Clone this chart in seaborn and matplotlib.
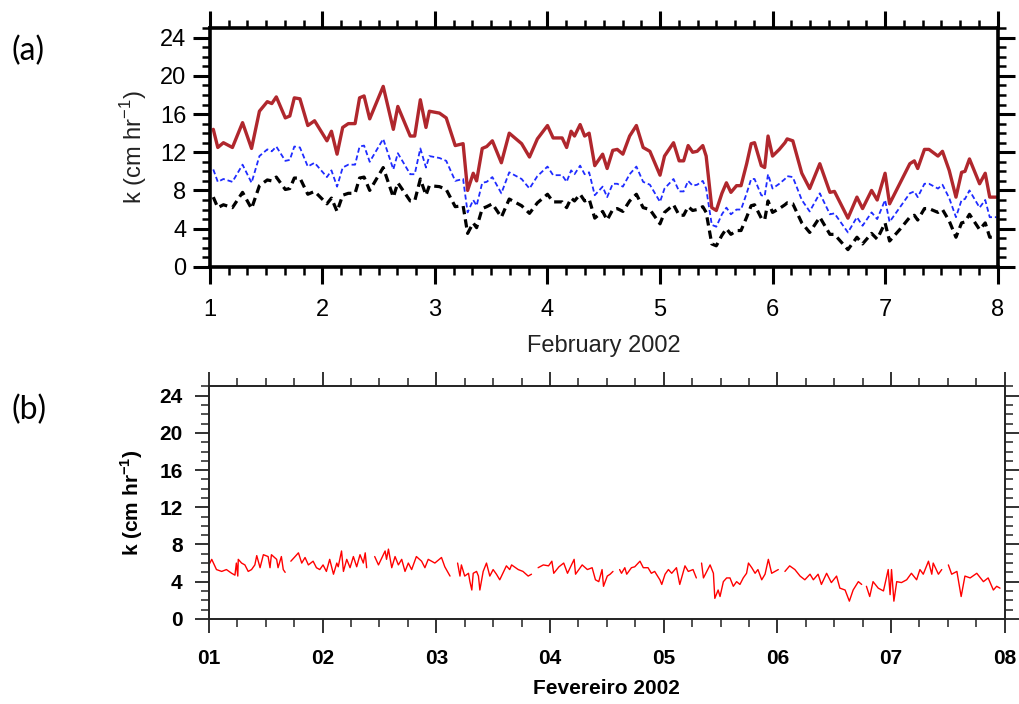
import numpy as np
import pandas as pd
import matplotlib
matplotlib.use("Agg")
import matplotlib.pyplot as plt
import seaborn as sns
from matplotlib.ticker import MultipleLocator, FixedLocator, FixedFormatter

# ---------------- data: panel (a) ----------------
day_a = [1.03, 1.07, 1.12, 1.20, 1.29, 1.37, 1.44, 1.51, 1.55, 1.59,
         1.67, 1.71, 1.75, 1.80, 1.87, 1.93, 2.04, 2.08, 2.13, 2.18,
         2.23, 2.29, 2.33, 2.37, 2.42, 2.54, 2.63, 2.67, 2.78, 2.82,
         2.87, 2.92, 2.95, 3.04, 3.10, 3.18, 3.25, 3.29, 3.34, 3.37,
         3.42, 3.46, 3.51, 3.59, 3.66, 3.77, 3.84, 3.91, 4.00, 4.05,
         4.13, 4.17, 4.21, 4.24, 4.29, 4.33, 4.37, 4.42, 4.49, 4.53,
         4.58, 4.62, 4.67, 4.73, 4.79, 4.85, 4.91, 5.00, 5.04, 5.12,
         5.17, 5.21, 5.25, 5.29, 5.33, 5.38, 5.41, 5.46, 5.50, 5.55,
         5.59, 5.63, 5.68, 5.72, 5.77, 5.81, 5.84, 5.90, 5.93, 5.96,
         6.00, 6.06, 6.11, 6.13, 6.18, 6.26, 6.33, 6.42, 6.51, 6.55,
         6.67, 6.75, 6.80, 6.88, 6.93, 7.00, 7.04, 7.13, 7.22, 7.26,
         7.29, 7.35, 7.39, 7.47, 7.51, 7.57, 7.63, 7.68, 7.71, 7.75,
         7.84, 7.89, 7.93, 7.99]

k_red_a = [14.4, 12.5, 13.0, 12.5, 15.1, 12.4, 16.3, 17.3, 17.1, 17.8,
           15.6, 15.8, 17.7, 17.6, 14.8, 15.3, 13.2, 14.2, 11.8, 14.6,
           15.0, 15.0, 17.7, 17.9, 15.5, 18.9, 14.4, 16.8, 13.7, 13.7,
           17.5, 14.6, 16.3, 16.1, 15.6, 12.7, 12.9, 8.0, 9.8, 9.0,
           12.4, 12.6, 13.2, 10.9, 14.0, 12.9, 11.5, 13.4, 14.8, 13.5,
           13.5, 12.5, 14.2, 13.7, 14.9, 13.7, 14.0, 10.6, 11.8, 10.3,
           12.2, 12.3, 11.8, 13.7, 14.8, 12.5, 12.1, 9.6, 11.6, 13.0,
           11.1, 11.1, 12.7, 12.0, 12.1, 12.7, 11.6, 6.2, 5.9, 7.7,
           8.8, 7.8, 8.5, 8.5, 10.8, 12.9, 13.0, 10.6, 10.4, 13.7,
           11.6, 12.3, 13.0, 13.4, 13.2, 9.8, 8.2, 10.8, 7.8, 7.9,
           5.1, 7.3, 6.1, 8.0, 7.0, 9.8, 6.6, 8.7, 10.8, 11.1,
           10.3, 12.3, 12.3, 11.6, 12.1, 10.1, 7.3, 9.9, 10.0, 11.3,
           8.7, 9.8, 7.3, 7.3]

k_blue_a = [10.2, 8.9, 9.2, 8.9, 10.7, 8.8, 11.6, 12.3, 12.1, 12.6,
            11.1, 11.2, 12.6, 12.5, 10.5, 10.9, 9.4, 10.1, 8.4, 10.4,
            10.7, 10.7, 12.6, 12.7, 11.0, 13.4, 10.2, 11.9, 9.7, 9.7,
            12.4, 10.4, 11.6, 11.4, 11.1, 9.0, 9.2, 5.7, 7.0, 6.4,
            8.8, 8.9, 9.4, 7.7, 9.9, 9.2, 8.2, 9.5, 10.5, 9.6,
            9.6, 8.9, 10.1, 9.7, 10.6, 9.7, 9.9, 7.5, 8.4, 7.3,
            8.7, 8.7, 8.4, 9.7, 10.5, 8.9, 8.6, 6.8, 8.2, 9.2,
            7.9, 7.9, 9.0, 8.5, 8.6, 9.0, 8.2, 4.4, 4.2, 5.5,
            6.2, 5.5, 6.0, 6.0, 7.7, 9.2, 9.2, 7.5, 7.4, 9.7,
            8.2, 8.7, 9.2, 9.5, 9.4, 7.0, 5.8, 7.7, 5.5, 5.6,
            3.6, 5.2, 4.3, 5.7, 5.0, 7.0, 4.7, 6.2, 7.7, 7.9,
            7.3, 8.7, 8.7, 8.2, 8.6, 7.2, 5.2, 7.0, 7.1, 8.0,
            6.2, 7.0, 5.2, 5.2]

k_black_a = [7.3, 6.2, 6.5, 6.2, 7.8, 6.1, 8.5, 9.1, 9.0, 9.4,
             8.1, 8.2, 9.3, 9.3, 7.6, 7.9, 6.6, 7.2, 5.8, 7.5,
             7.7, 7.7, 9.3, 9.4, 8.0, 10.4, 7.3, 8.8, 6.9, 6.9,
             9.2, 7.5, 8.5, 8.4, 8.1, 6.3, 6.4, 3.5, 4.6, 4.1,
             6.1, 6.3, 6.6, 5.2, 7.1, 6.4, 5.6, 6.7, 7.6, 6.8,
             6.8, 6.2, 7.2, 6.9, 7.6, 6.9, 7.1, 5.1, 5.8, 4.9,
             6.0, 6.1, 5.8, 6.9, 7.6, 6.2, 6.0, 4.5, 5.7, 6.5,
             5.4, 5.4, 6.3, 5.9, 6.0, 6.3, 5.7, 2.4, 2.2, 3.3,
             4.0, 3.4, 3.8, 3.8, 5.2, 6.4, 6.5, 5.1, 4.9, 6.9,
             5.7, 6.1, 6.5, 6.7, 6.6, 4.6, 3.6, 5.2, 3.4, 3.4,
             1.8, 3.1, 2.4, 3.5, 2.9, 4.6, 2.7, 3.9, 5.2, 5.4,
             4.9, 6.1, 6.1, 5.7, 6.0, 4.8, 3.1, 4.6, 4.7, 5.5,
             3.9, 4.6, 3.1, 3.1]

# ---------------- data: panel (b) (hours since 1 Feb 00:00; nan = gap) ----------------
nan = float("nan")
hours_b = [0.0, 0.6, 1.6, 2.7, 3.7, 4.8, 5.5, 5.8, 6.1, 6.2, 6.9, 7.6, 8.3, 9.0, 9.7, 10.1, 10.8, 11.5, 12.5, 12.9, 13.2, 14.3, 14.6, 15.3, 15.7, 16.1, 16.5,
           17.3, 18.2, 18.9, 19.6, 20.3, 21.0, 22.0, 22.7, 23.4, 24.1, 24.8, 25.5, 26.3, 27.0, 27.3, 28.0, 28.4, 29.1, 29.8, 30.5, 31.2, 31.9, 32.6, 33.0, 33.3, 34.0,
           35.0, 35.8, 37.2, 37.5, 37.9, 38.6, 39.3, 40.0, 40.7, 41.4, 42.1, 42.8, 43.8, 44.9, 45.6, 46.3, 47.7, 49.1, 49.8, 50.9, 51.5,
           52.5, 53.0, 53.3, 54.0, 54.8, 55.1, 55.5, 55.8, 56.5, 56.9, 57.2, 57.9, 58.6, 59.3, 60.0, 60.7, 61.4, 62.8, 63.5, 63.9, 65.3, 66.3, 67.4, 68.1, 68.8,
           69.5, 70.6, 71.7, 72.4, 72.8, 73.9, 74.9, 75.7, 77.1, 77.4, 78.8, 79.9, 80.9, 81.6, 82.3, 83.0, 83.3, 84.1, 84.7, 85.3, 85.8,
           86.7, 87.1, 87.8, 88.2, 89.2, 89.9, 91.0, 91.7, 92.7, 93.4, 94.1, 95.2, 95.6, 96.3, 97.0, 97.7, 98.7, 99.4, 100.5, 101.2, 102.2, 102.9, 103.6,
           104.0, 104.4, 105.1, 105.8, 106.5, 106.8, 107.5, 107.9, 108.6, 109.3, 110.0, 110.7, 111.4, 112.1, 112.8, 113.5, 113.9, 114.6, 115.3, 115.9, 116.7, 117.4, 118.1, 118.8, 119.5, 120.2, 120.8,
           121.6, 122.6, 123.7, 124.8, 125.8, 126.9, 127.6, 128.6, 129.3, 130.4, 131.4, 132.5, 133.2, 134.3, 135.2, 136.0, 137.1, 137.8, 138.2,
           138.8, 139.5, 140.2, 141.3, 142.4, 143.4, 143.8, 144.1, 144.6, 145.2, 146.2, 147.3, 148.3, 149.4, 150.1, 150.8, 151.9, 152.6, 152.9, 154.0, 154.7, 155.0,
           156.1, 156.8, 157.9, 158.8, 159.6, 160.7, 162.1, 163.5, 164.5, 165.6, 166.3, 167.0]
k_b = [5.8, 6.4, 5.3, 5.1, 5.3, 4.9, 4.7, 6.0, 4.6, 6.4, 6.0, 5.8, 5.1, 5.3, 5.8, 6.8, 5.5, 6.9, 6.7, 5.5, 6.9, 6.4, 5.5, 6.7, 5.3, 5.0, nan,
       6.2, 6.7, 7.1, 6.0, 6.6, 5.8, 6.2, 5.5, 5.3, 5.8, 5.1, 6.4, 4.8, 6.0, 5.6, 7.3, 5.1, 6.4, 5.5, 6.7, 5.6, 6.9, 6.0, 7.1, 5.5, nan,
       6.7, 5.8, 7.3, 6.4, 7.5, 5.5, 6.7, 5.8, 6.4, 5.1, 6.0, 5.3, 6.7, 6.2, 5.5, 6.4, 6.0, 6.6, 5.6, 4.6, nan,
       6.0, 4.6, 5.8, 4.6, 4.9, 4.0, 3.1, 4.9, 5.1, 4.6, 3.1, 5.1, 6.0, 4.6, 5.3, 4.8, 4.2, 5.7, 5.3, 5.8, 5.3, 5.1, 4.6, 4.8, nan,
       5.5, 5.8, 5.7, 6.2, 4.9, 5.6, 6.0, 4.9, 6.4, 4.8, 5.8, 5.3, 5.5, 4.2, 4.0, 5.3, 3.5, 4.6, 4.8, 5.1, nan,
       5.3, 4.9, 5.5, 4.8, 5.5, 5.6, 6.2, 5.5, 5.5, 4.9, 5.1, 4.2, 3.7, 4.8, 5.3, 4.9, 5.5, 3.7, 5.7, 5.1, 5.3, 4.4, nan,
       6.0, 4.4, 5.1, 5.8, 4.9, 2.2, 3.1, 2.4, 4.0, 4.4, 4.4, 3.5, 4.0, 3.7, 4.4, 4.9, 6.0, 5.5, 4.9, 5.3, 4.2, 4.8, 6.4, 4.9, 5.1, 5.3, nan,
       5.1, 5.7, 5.3, 4.6, 4.2, 4.8, 4.2, 4.8, 3.7, 4.9, 3.9, 4.6, 3.3, 3.1, 1.9, 3.1, 4.0, 3.7, nan,
       3.5, 2.4, 4.0, 3.3, 3.0, 5.3, 2.6, 5.3, 1.9, 4.0, 3.9, 4.2, 4.9, 4.2, 5.3, 4.8, 6.2, 4.8, 6.0, 4.8, 5.3, nan,
       5.8, 4.8, 5.1, 2.4, 4.6, 4.4, 4.9, 4.0, 4.4, 3.1, 3.5, 3.3]

ticks_days = [1, 2, 3, 4, 5, 6, 7, 8]
labels_a = ["1", "2", "3", "4", "5", "6", "7", "8"]
labels_b = ["01", "02", "03", "04", "05", "06", "07", "08"]
yticks = [0, 4, 8, 12, 16, 20, 24]

# ---------------- style ----------------
sns.set_theme(style="white")
plt.rcParams["font.family"] = ["Liberation Sans", "DejaVu Sans"]
plt.rcParams["mathtext.fontset"] = "custom"
plt.rcParams["mathtext.rm"] = "Liberation Sans"
plt.rcParams["mathtext.bf"] = "Liberation Sans:bold"
plt.rcParams["text.color"] = "black"
plt.rcParams["axes.labelcolor"] = "black"

fig = plt.figure(figsize=(10.19, 7.04), dpi=100)
ax1 = fig.add_axes([0.206, 0.621, 0.773, 0.339])
ax2 = fig.add_axes([0.205, 0.121, 0.781, 0.330])

# ---------------- panel (a) ----------------
df_a = pd.DataFrame({"day": day_a, "red": k_red_a, "blue": k_blue_a, "black": k_black_a})
sns.lineplot(data=df_a, x="day", y="black", ax=ax1, color="black", lw=2.3,
             linestyle=(0, (2.6, 1.6)), estimator=None, sort=False)
sns.lineplot(data=df_a, x="day", y="blue", ax=ax1, color="#1f2cff", lw=1.3,
             linestyle=(0, (2.8, 1.6)), estimator=None, sort=False)
sns.lineplot(data=df_a, x="day", y="red", ax=ax1, color="#b0272d", lw=2.4,
             estimator=None, sort=False)

ax1.set_xlim(1, 8)
ax1.set_ylim(0, 25)
ax1.xaxis.set_major_locator(FixedLocator(ticks_days))
ax1.xaxis.set_major_formatter(FixedFormatter(labels_a))
ax1.xaxis.set_minor_locator(MultipleLocator(1 / 6))
ax1.set_yticks(yticks)
ax1.yaxis.set_minor_locator(MultipleLocator(1))
ax1.tick_params(which="both", direction="out", top=True, right=True,
                bottom=True, left=True, labelsize=17, colors="black")
ax1.tick_params(which="major", length=12, width=2.2, pad=5)
ax1.tick_params(which="minor", length=6, width=1.8)
ax1.tick_params(axis="x", which="major", pad=11)
for s in ax1.spines.values():
    s.set_linewidth(2.6)
    s.set_color("black")
ax1.set_xlabel("February 2002", fontsize=17, labelpad=10, color="#222222")
ax1.set_ylabel(r"k (cm hr$^{-1}$)", fontsize=17, labelpad=8, color="#222222")

# ---------------- panel (b) ----------------
df_b = pd.DataFrame({"hours": hours_b, "k": k_b})
df_b["day"] = 1 + df_b["hours"] / 24.0
df_b["seg"] = df_b["k"].isna().cumsum()
df_b = df_b.dropna()
sns.lineplot(data=df_b, x="day", y="k", units="seg", estimator=None, ax=ax2,
             color="#ff0000", lw=1.0, sort=False)

ax2.set_xlim(1, 8)
ax2.set_ylim(0, 25)
ax2.xaxis.set_major_locator(FixedLocator(ticks_days))
ax2.xaxis.set_major_formatter(FixedFormatter(labels_b))
ax2.xaxis.set_minor_locator(MultipleLocator(0.25))
ax2.set_yticks(yticks)
ax2.yaxis.set_minor_locator(MultipleLocator(1))
ax2.tick_params(which="both", direction="out", top=True, right=True,
                bottom=True, left=True, labelsize=15, colors="#222222",
                labelcolor="black")
ax2.tick_params(which="major", length=10, width=1.3, pad=9)
ax2.tick_params(which="minor", length=6, width=1.1)
ax2.tick_params(axis="x", which="major", pad=12)
for lab in ax2.get_xticklabels() + ax2.get_yticklabels():
    lab.set_fontweight("bold")
for s in ax2.spines.values():
    s.set_linewidth(1.4)
    s.set_color("#222222")
ax2.set_xlabel("Fevereiro 2002", fontsize=15, fontweight="bold", labelpad=8)
ax2.set_ylabel(r"k (cm hr$^{\mathbf{-1}}$)", fontsize=15, fontweight="bold", labelpad=10)

# ---------------- panel letters ----------------
fig.text(0.011, 0.928, "(a)", fontsize=23, family=["Lato", "DejaVu Sans"], va="center")
fig.text(0.011, 0.418, "(b)", fontsize=23, family=["Lato", "DejaVu Sans"], va="center")

fig.savefig("out.png", dpi=100, facecolor="white")
